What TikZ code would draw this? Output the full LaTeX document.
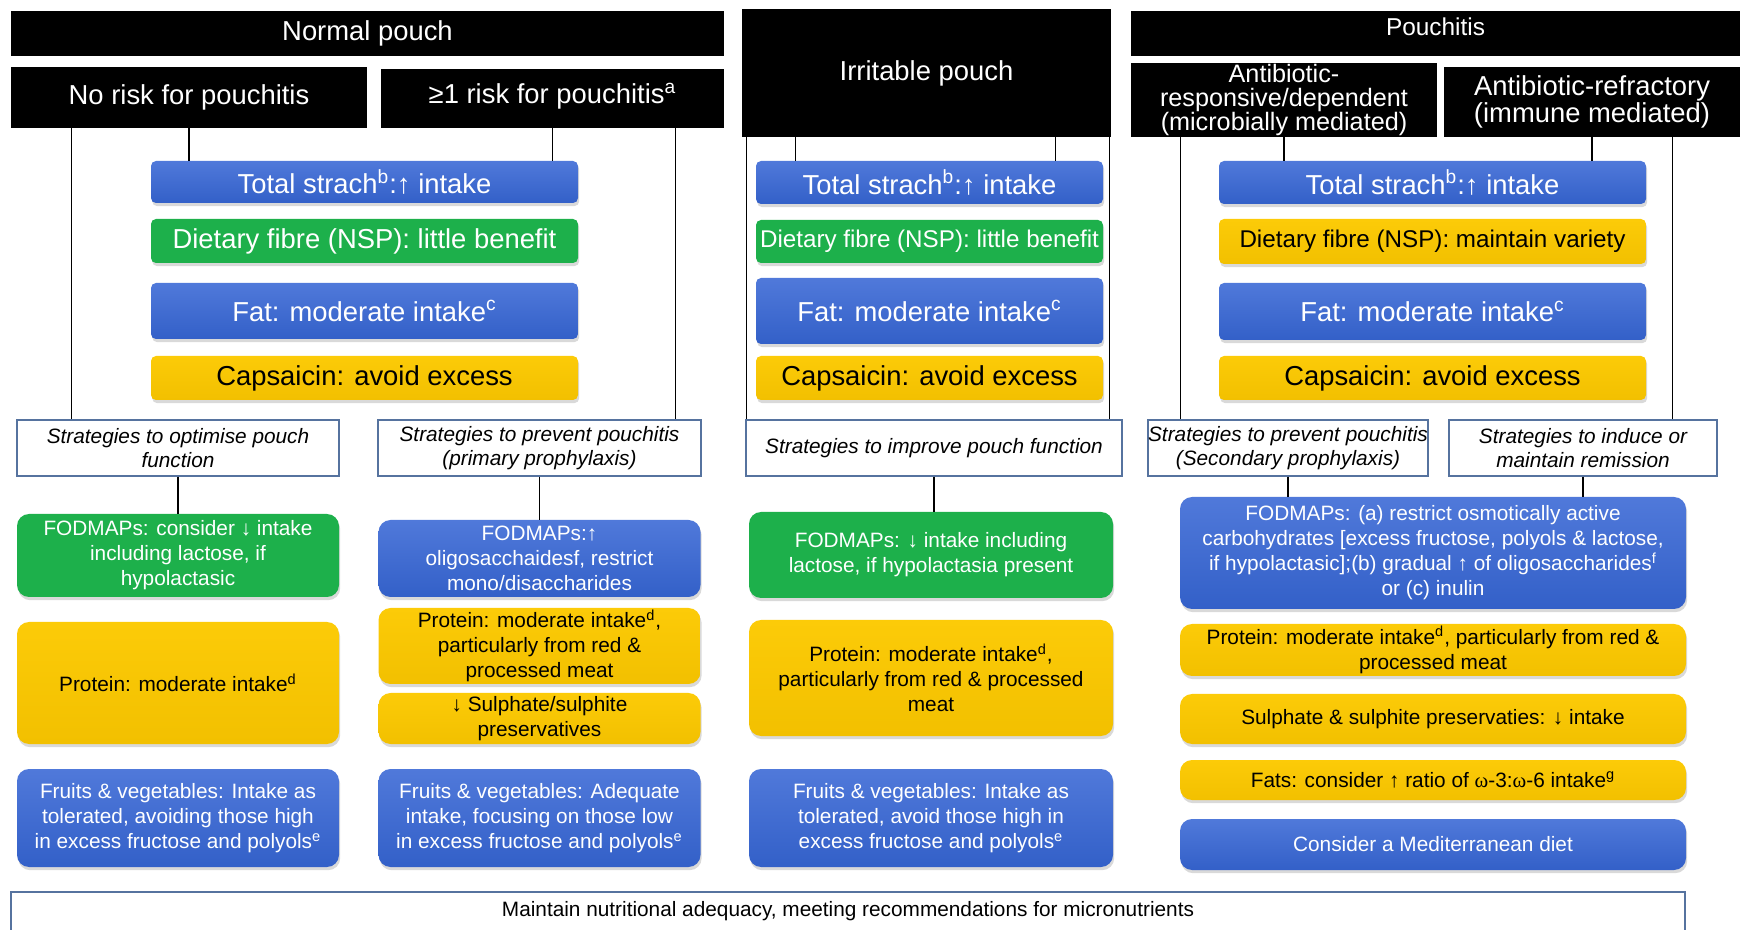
\documentclass[tikz,border=0pt]{standalone}
\usepackage{fontspec}
\setmainfont{Liberation Sans}
\newfontfamily\grk{Liberation Serif}
\usetikzlibrary{shadows}
\definecolor{bluetop}{HTML}{5079DA}
\definecolor{bluebot}{HTML}{3360C8}
\definecolor{leafgreen}{HTML}{1DB04B}
\definecolor{goldtop}{HTML}{FCCB08}
\definecolor{goldbot}{HTML}{F2C000}
\definecolor{edgeblue}{HTML}{56739F}

\begin{document}
\begin{tikzpicture}[x=0.5pt, y=-0.5pt,
    sz/.style 2 args={minimum width=#1*0.5pt, minimum height=#2*0.5pt},
    hdr/.style={fill=black, text=white, inner sep=0pt, align=center, font=\fontsize{13.7}{16}\selectfont},
    food/.style={rounded corners=2.5pt, inner sep=0pt, align=center, font=\fontsize{13.7}{16}\selectfont,
        drop shadow={shadow xshift=0.6pt, shadow yshift=-1.6pt, opacity=0.3}},
    tip/.style={food, rounded corners=6pt, font=\fontsize{10.4}{12.5}\selectfont},
    blu/.style={top color=bluetop, bottom color=bluebot, text=white},
    grn/.style={fill=leafgreen, text=white},
    yel/.style={top color=goldtop, bottom color=goldbot, text=black},
    strat/.style={draw=edgeblue, line width=0.7pt, fill=white, inner sep=0pt, align=center,
        font=\fontsize{10.4}{12.2}\selectfont\itshape},
    link/.style={line width=0.6pt}]
    \useasboundingbox (0,0) rectangle (1742,930);

    % headers
    \node[hdr, sz={713}{45}] (npouch) at (367.5,33.5) {Normal pouch};
    \node[hdr, sz={356}{61}] (norisk) at (189,97.5) {No risk for pouchitis};
    \node[hdr, sz={343}{59}, text depth=5pt] (onerisk) at (552.5,98.5) {≥1 risk for pouchitis\textsuperscript{a}};
    \node[hdr, sz={369}{128}] (irritable) at (926.5,73) {Irritable pouch};
    \node[hdr, sz={609}{45}, text depth=7pt, font=\fontsize{12.2}{14}\selectfont] (pouchitis) at (1435.5,33.5) {Pouchitis};
    \node[hdr, sz={306}{74}, font=\fontsize{12.6}{12}\selectfont] (abresp) at (1284,100)
        {Antibiotic-\\responsive/dependent\\(microbially mediated)};
    \node[hdr, sz={296}{70}, font=\fontsize{13.7}{11.5}\selectfont] (abrefr) at (1592,102)
        {Antibiotic-refractory\\(immune mediated)};

    % shared nutrients, normal pouch
    \node[food, blu, sz={427}{42}] (starchN) at (364.5,182) {Total strach\textsuperscript{b}:↑ intake};
    \node[food, grn, sz={427}{44}] (fibreN) at (364.5,241) {Dietary fibre (NSP): little benefit};
    \node[food, blu, sz={427}{56}] (fatN) at (364.5,311) {Fat: moderate intake\textsuperscript{c}};
    \node[food, yel, sz={427}{44}] (capsN) at (364.5,378) {Capsaicin: avoid excess};

    % shared nutrients, irritable pouch
    \node[food, blu, sz={347}{43}] (starchI) at (929.5,182.5) {Total strach\textsuperscript{b}:↑ intake};
    \node[food, grn, sz={347}{43}, font=\fontsize{12.1}{14}\selectfont] (fibreI) at (929.5,241.5)
        {Dietary fibre (NSP): little benefit};
    \node[food, blu, sz={347}{66}] (fatI) at (929.5,311) {Fat: moderate intake\textsuperscript{c}};
    \node[food, yel, sz={347}{44}] (capsI) at (929.5,378) {Capsaicin: avoid excess};

    % shared nutrients, pouchitis
    \node[food, blu, sz={427}{43}] (starchP) at (1432.5,182.5) {Total strach\textsuperscript{b}:↑ intake};
    \node[food, yel, sz={427}{45}, font=\fontsize{12.1}{14}\selectfont] (fibreP) at (1432.5,241.5)
        {Dietary fibre (NSP): maintain variety};
    \node[food, blu, sz={427}{57}] (fatP) at (1432.5,311.5) {Fat: moderate intake\textsuperscript{c}};
    \node[food, yel, sz={427}{44}] (capsP) at (1432.5,378) {Capsaicin: avoid excess};

    % strategies
    \node[strat, sz={322}{56}] (optN) at (178,448) {Strategies to optimise pouch\\function};
    \node[strat, sz={323}{56}] (primN) at (539.5,448) {Strategies to prevent pouchitis\\(primary prophylaxis)};
    \node[strat, sz={376}{56}] (impI) at (934,448) {Strategies to improve pouch function};
    \node[strat, sz={280}{56}] (secP) at (1288,448) {Strategies to prevent pouchitis\\(Secondary prophylaxis)};
    \node[strat, sz={268}{56}] (indP) at (1583,448) {Strategies to induce or\\maintain remission};

    % advice, no risk
    \node[tip, grn, sz={322}{83}] (fodA) at (178,555.5)
        {FODMAPs: consider ↓ intake\\including lactose, if\\hypolactasic};
    \node[tip, yel, sz={322}{122}] (protA) at (178,683) {Protein: moderate intake\textsuperscript{d}};
    \node[tip, blu, sz={322}{98}] (fruitA) at (178,818)
        {Fruits \& vegetables: Intake as\\tolerated, avoiding those high\\in excess fructose and polyols\textsuperscript{e}};

    % advice, at risk
    \node[tip, blu, sz={322}{77}] (fodB) at (539.5,558.5)
        {FODMAPs:↑\\oligosacchaidesf, restrict\\mono/disaccharides};
    \node[tip, yel, sz={322}{76}] (protB) at (539.5,646)
        {Protein: moderate intake\textsuperscript{d},\\particularly from red \&\\processed meat};
    \node[tip, yel, sz={322}{51}] (sulphB) at (539.5,718.5) {↓ Sulphate/sulphite\\preservatives};
    \node[tip, blu, sz={322}{98}] (fruitB) at (539.5,818)
        {Fruits \& vegetables: Adequate\\intake, focusing on those low\\in excess fructose and polyols\textsuperscript{e}};

    % advice, irritable pouch
    \node[tip, grn, sz={364}{86}] (fodC) at (931,555)
        {FODMAPs: ↓ intake including\\lactose, if hypolactasia present};
    \node[tip, yel, sz={364}{116}] (protC) at (931,678)
        {Protein: moderate intake\textsuperscript{d},\\particularly from red \& processed\\meat};
    \node[tip, blu, sz={364}{98}] (fruitC) at (931,818)
        {Fruits \& vegetables: Intake as\\tolerated, avoid those high in\\excess fructose and polyols\textsuperscript{e}};

    % advice, pouchitis
    \node[tip, blu, sz={506}{112}] (fodD) at (1433,553)
        {FODMAPs: (a) restrict osmotically active\\carbohydrates [excess fructose, polyols \& lactose,\\if hypolactasic];(b) gradual ↑ of oligosaccharides\textsuperscript{f}\\or (c) inulin};
    \node[tip, yel, sz={506}{52}] (protD) at (1433,650)
        {Protein: moderate intake\textsuperscript{d}, particularly from red \&\\processed meat};
    \node[tip, yel, sz={506}{50}] (sulphD) at (1433,719) {Sulphate \& sulphite preservaties: ↓ intake};
    \node[tip, yel, sz={506}{40}] (fatsD) at (1433,780)
        {Fats: consider ↑ ratio of {\grk ω}-3:{\grk ω}-6 intake\textsuperscript{g}};
    \node[tip, blu, sz={506}{51}] (mediD) at (1433,844.5) {Consider a Mediterranean diet};

    % footer
    \node[draw=edgeblue, line width=0.7pt, inner sep=0pt, sz={1674}{46}, text depth=6pt,
        font=\fontsize{10.4}{12.5}\selectfont] (adequacy) at (848,915)
        {Maintain nutritional adequacy, meeting recommendations for micronutrients};

    % links from headers
    \draw[link] (norisk.south west) ++(61,0) coordinate (nra) -- (nra |- optN.north);
    \draw[link] (norisk.south) -- (norisk.south |- starchN.north);
    \draw[link] (onerisk.south) -- (onerisk.south |- starchN.north);
    \draw[link] (onerisk.south east) ++(-49,0) coordinate (ora) -- (ora |- primN.north);
    \draw[link] (irritable.south west) ++(5,0) coordinate (ira) -- (ira |- impI.north);
    \draw[link] (irritable.south west) ++(54,0) coordinate (irb) -- (irb |- starchI.north);
    \draw[link] (irritable.south east) ++(-56,0) coordinate (irc) -- (irc |- starchI.north);
    \draw[link] (irritable.south east) ++(-2,0) coordinate (ird) -- (ird |- impI.north);
    \draw[link] (abresp.south west) ++(50,0) coordinate (aba) -- (aba |- secP.north);
    \draw[link] (abresp.south) -- (abresp.south |- starchP.north);
    \draw[link] (abrefr.south) -- (abrefr.south |- starchP.north);
    \draw[link] (abrefr.south east) ++(-68,0) coordinate (abb) -- (abb |- indP.north);

    % links from strategies
    \draw[link] (optN.south) -- (optN.south |- fodA.north);
    \draw[link] (primN.south) -- (primN.south |- fodB.north);
    \draw[link] (impI.south) -- (impI.south |- fodC.north);
    \draw[link] (secP.south) -- (secP.south |- fodD.north);
    \draw[link] (indP.south) -- (indP.south |- fodD.north);
\end{tikzpicture}
\end{document}
